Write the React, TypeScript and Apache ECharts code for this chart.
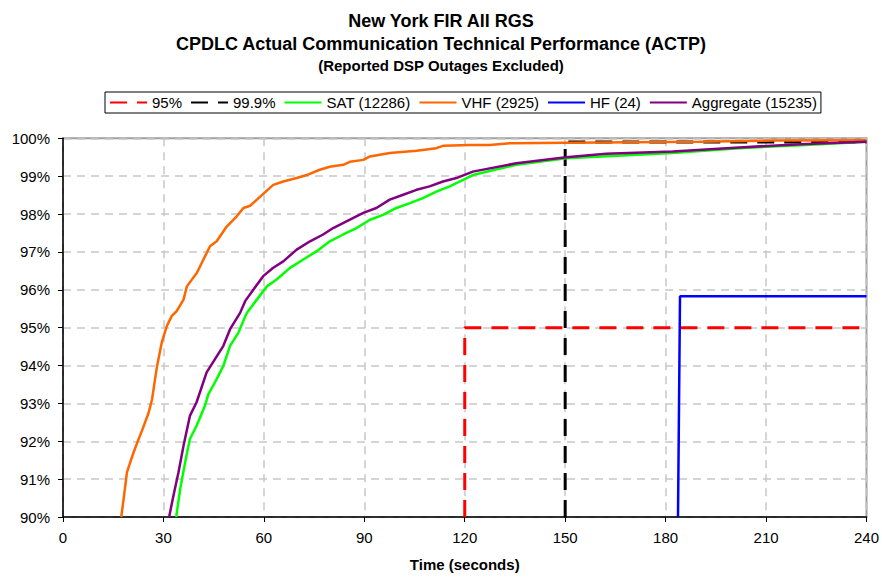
import React, { useEffect, useRef } from "react";
import * as echarts from "echarts";

const titleLines = [
  "New York FIR All RGS",
  "CPDLC Actual Communication Technical Performance (ACTP)",
  "(Reported DSP Outages Excluded)",
];
const xAxisName = "Time (seconds)";

const p95X = [120, 120, 240];
const p95Y = [90, 95, 95];
const p999X = [150, 150, 240];
const p999Y = [90, 99.9, 99.9];

const satX = [33.8, 35.0, 36.5, 37.9, 39.9, 42.4, 43.4, 45.9, 47.9, 49.9, 52.4, 54.9, 57.9, 60.9, 63.8, 67.8, 71.8, 75.8, 79.7, 83.7, 87.7, 91.7, 95.6, 99.6, 103.6, 107.5, 111.5, 115.5, 119.5, 122.4, 135.4, 150.3, 182.1, 202, 221.9, 240];
const satY = [90, 90.74, 91.45, 92.06, 92.41, 92.94, 93.24, 93.64, 93.99, 94.52, 94.87, 95.39, 95.74, 96.09, 96.27, 96.58, 96.8, 97.02, 97.28, 97.46, 97.63, 97.85, 97.98, 98.16, 98.29, 98.42, 98.59, 98.73, 98.9, 99.03, 99.3, 99.47, 99.61, 99.74, 99.82, 99.91];

const vhfX = [17.4, 18.1, 19.1, 20.1, 21.1, 22.6, 23.6, 25.6, 26.6, 28.1, 29.5, 31.0, 32.5, 34.0, 36.0, 37.0, 40.0, 43.9, 45.9, 48.9, 51.9, 53.9, 55.9, 58.9, 62.8, 65.8, 69.8, 72.8, 76.7, 79.7, 83.7, 85.7, 89.7, 91.7, 97.6, 105.6, 111.5, 113.5, 121.5, 127.5, 133.4, 150.3, 190, 211.8, 240];
const vhfY = [90, 90.47, 91.18, 91.45, 91.71, 92.06, 92.28, 92.76, 93.11, 93.99, 94.61, 95.04, 95.31, 95.44, 95.74, 96.09, 96.45, 97.15, 97.28, 97.67, 97.94, 98.16, 98.22, 98.46, 98.77, 98.86, 98.95, 99.03, 99.17, 99.25, 99.3, 99.38, 99.43, 99.52, 99.61, 99.67, 99.74, 99.8, 99.82, 99.82, 99.87, 99.88, 99.91, 99.94, 99.95];

const hfX = [183.7, 184.3, 240];
const hfY = [90, 95.83, 95.83];

const aggX = [31.7, 33.0, 34.5, 36.0, 37.9, 39.9, 42.9, 45.4, 47.9, 49.9, 52.9, 54.4, 56.9, 59.8, 62.8, 65.8, 69.8, 73.8, 77.7, 80.7, 85.7, 89.7, 93.6, 97.6, 101.6, 105.6, 109.5, 113.5, 117.5, 122.4, 135.4, 150.3, 162.2, 182.1, 202, 221.9, 240];
const aggY = [90, 90.57, 91.18, 91.88, 92.67, 93.03, 93.82, 94.17, 94.52, 94.96, 95.39, 95.7, 96.01, 96.36, 96.58, 96.75, 97.06, 97.28, 97.46, 97.63, 97.85, 98.03, 98.16, 98.38, 98.51, 98.64, 98.73, 98.86, 98.95, 99.12, 99.34, 99.5, 99.59, 99.65, 99.76, 99.85, 99.91];

const seriesNames = ["95%", "99.9%", "SAT (12286)", "VHF (2925)", "HF (24)", "Aggregate (15235)"];

const FONT = "'Liberation Sans', Arial, Helvetica, sans-serif";

const zip = (xs: number[], ys: number[]) => xs.map((x, i) => [x, ys[i]]);

export default function App() {
  const ref = useRef<HTMLDivElement>(null);
  useEffect(() => {
    if (!ref.current) return;
    const chart = echarts.init(ref.current, null, { renderer: "svg" });
    const mk = (name: string, xs: number[], ys: number[], color: string, width: number, dashed: boolean) => ({
      name,
      type: "line",
      data: zip(xs, ys),
      showSymbol: false,
      symbol: "none",
      lineStyle: { color, width, type: dashed ? [17, 10] : "solid" },
      itemStyle: { color },
      emphasis: { disabled: true },
    });
    chart.setOption({
      animation: false,
      backgroundColor: "#ffffff",
      title: [
        { text: titleLines[0], left: "center", top: 7, textStyle: { fontFamily: FONT, fontSize: 18, fontWeight: "bold", color: "#000" } },
        { text: titleLines[1], left: "center", top: 30, textStyle: { fontFamily: FONT, fontSize: 18, fontWeight: "bold", color: "#000" } },
        { text: titleLines[2], left: "center", top: 53, textStyle: { fontFamily: FONT, fontSize: 15, fontWeight: "bold", color: "#000" } },
      ],
      legend: {
        data: seriesNames,
        left: 105,
        top: 92,
        padding: [3, 4, 3, 4],
        itemGap: 8,
        itemWidth: 37,
        itemHeight: 16,
        borderColor: "#000",
        borderWidth: 1,
        itemStyle: { opacity: 0 },
        textStyle: { fontFamily: FONT, fontSize: 15, color: "#000" },
      },
      grid: {
        left: 63,
        right: 14.5,
        top: 138.3,
        bottom: 58.7,
        show: true,
        borderColor: "#a0a0a0",
        borderWidth: 2,
        backgroundColor: "transparent",
      },
      xAxis: {
        type: "value",
        min: 0,
        max: 240,
        interval: 30,
        name: xAxisName,
        nameLocation: "middle",
        nameGap: 40,
        nameTextStyle: { fontFamily: FONT, fontSize: 15, fontWeight: "bold", color: "#000" },
        axisLine: { show: true, lineStyle: { color: "#000", width: 1.5 } },
        axisTick: { show: true, length: 5, lineStyle: { color: "#000" } },
        axisLabel: { fontFamily: FONT, fontSize: 15, color: "#000", margin: 13 },
        splitLine: { show: true, lineStyle: { color: "#c8c8c8", type: [8, 6], width: 1.5 } },
      },
      yAxis: {
        type: "value",
        min: 90,
        max: 100,
        interval: 1,
        axisLine: { show: true, lineStyle: { color: "#000", width: 1.5 } },
        axisTick: { show: true, length: 5, lineStyle: { color: "#000" } },
        axisLabel: { fontFamily: FONT, fontSize: 15, color: "#000", margin: 13, formatter: "{value}%" },
        splitLine: { show: true, lineStyle: { color: "#c8c8c8", type: [8, 6], width: 1.5 } },
      },
      series: [
        mk(seriesNames[0], p95X, p95Y, "#ff0000", 3, true),
        mk(seriesNames[1], p999X, p999Y, "#000000", 3, true),
        mk(seriesNames[2], satX, satY, "#00ff00", 2.5, false),
        mk(seriesNames[3], vhfX, vhfY, "#ff6600", 2.5, false),
        mk(seriesNames[4], hfX, hfY, "#0000ff", 2.5, false),
        mk(seriesNames[5], aggX, aggY, "#800080", 2.5, false),
      ],
    });
    return () => chart.dispose();
  }, []);
  return <div ref={ref} style={{ position: "fixed", left: 0, top: 0, width: 882, height: 577 }} />;
}
